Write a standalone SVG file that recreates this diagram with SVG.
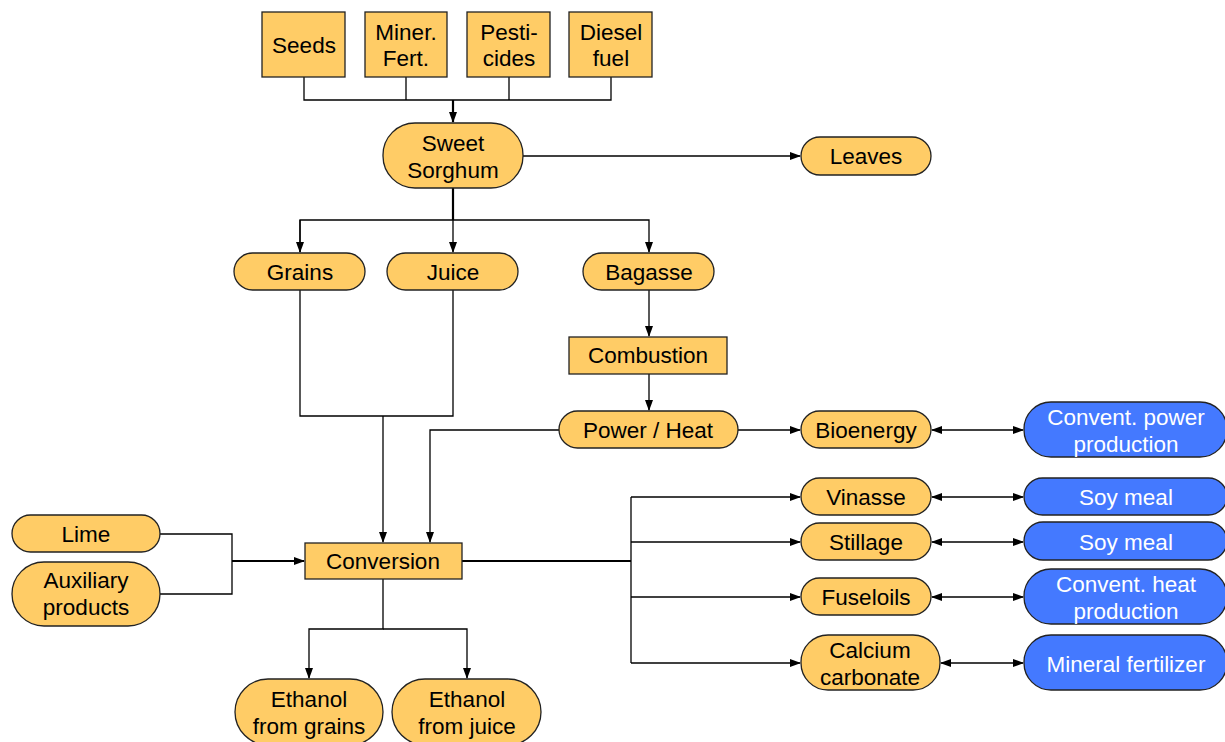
<svg xmlns="http://www.w3.org/2000/svg" width="1225" height="742" viewBox="0 0 1225 742">
<style>
.y{fill:#FFCC66;stroke:#222;stroke-width:1.3}
.b{fill:#4479FF;stroke:#222;stroke-width:1.3}
.t{font-family:"Liberation Sans",Arial,sans-serif;font-size:22.5px;text-anchor:middle;fill:#000}
.w{font-family:"Liberation Sans",Arial,sans-serif;font-size:22.5px;text-anchor:middle;fill:#fff}
.c{fill:none;stroke:#000;stroke-width:1.3}
.k{fill:none;stroke:#000;stroke-width:2.2}
</style>
<defs>
<marker id="a" markerWidth="11" markerHeight="11" refX="10" refY="5.5" orient="auto" markerUnits="userSpaceOnUse"><path d="M0,1.5 L11,5.5 L0,9.5 Z" fill="#000"/></marker>
<marker id="s" markerWidth="11" markerHeight="11" refX="1" refY="5.5" orient="auto" markerUnits="userSpaceOnUse"><path d="M11,1.5 L0,5.5 L11,9.5 Z" fill="#000"/></marker>
</defs>
<rect width="1225" height="742" fill="#fff"/>
<g id="connectors">
<path class="c" d="M304,77 V100 H611 V77 M406,77 V100 M509,77 V100"/>
<path class="k" d="M453,100 V122" marker-end="url(#a)"/>
<path class="c" d="M523,156 H800" marker-end="url(#a)"/>
<path class="k" d="M453,188 V220"/>
<path class="c" d="M300,252 V220 H649 V252" marker-end="url(#a)"/>
<path class="c" d="M300,220 V252" marker-end="url(#a)"/>
<path class="c" d="M453,220 V252" marker-end="url(#a)"/>
<path class="c" d="M649,290 V336" marker-end="url(#a)"/>
<path class="c" d="M649,374 V410" marker-end="url(#a)"/>
<path class="c" d="M300,290 V416 H453 V290"/>
<path class="c" d="M383,416 V542" marker-end="url(#a)"/>
<path class="c" d="M559,430 H430 V542" marker-end="url(#a)"/>
<path class="c" d="M738,430 H800" marker-end="url(#a)"/>
<path class="c" d="M932,430 H1023" marker-start="url(#s)" marker-end="url(#a)"/>
<path class="c" d="M160,534 H232 V594 H160"/>
<path class="k" d="M232,561 H304" marker-end="url(#a)"/>
<path class="k" d="M462,561 H631"/>
<path class="c" d="M631,497 V663"/>
<path class="c" d="M631,497 H800" marker-end="url(#a)"/>
<path class="c" d="M631,542 H800" marker-end="url(#a)"/>
<path class="c" d="M631,597 H800" marker-end="url(#a)"/>
<path class="c" d="M631,663 H800" marker-end="url(#a)"/>
<path class="c" d="M932,497 H1023" marker-start="url(#s)" marker-end="url(#a)"/>
<path class="c" d="M932,542 H1023" marker-start="url(#s)" marker-end="url(#a)"/>
<path class="c" d="M932,597 H1023" marker-start="url(#s)" marker-end="url(#a)"/>
<path class="c" d="M941,663 H1023" marker-start="url(#s)" marker-end="url(#a)"/>
<path class="c" d="M383,579 V629 H309 V678" marker-end="url(#a)"/>
<path class="c" d="M383,629 H467 V678" marker-end="url(#a)"/>
</g>
<g id="seeds"><rect class="y" x="262" y="12" width="83" height="65"/><text class="t" x="304" y="53">Seeds</text></g>
<g id="fert"><rect class="y" x="365" y="12" width="82" height="65"/><text class="t" x="406" y="40">Miner.</text><text class="t" x="406" y="66">Fert.</text></g>
<g id="pest"><rect class="y" x="467" y="12" width="83" height="65"/><text class="t" x="509" y="40">Pesti-</text><text class="t" x="509" y="66">cides</text></g>
<g id="diesel"><rect class="y" x="569" y="12" width="83" height="65"/><text class="t" x="611" y="40">Diesel</text><text class="t" x="611" y="66">fuel</text></g>
<g id="sorghum"><rect class="y" x="383" y="123" width="140" height="65" rx="32" ry="32"/><text class="t" x="453" y="151">Sweet</text><text class="t" x="453" y="178">Sorghum</text></g>
<g id="leaves"><rect class="y" x="801" y="137" width="130" height="38" rx="19" ry="19"/><text class="t" x="866" y="164">Leaves</text></g>
<g id="grains"><rect class="y" x="234" y="253" width="131" height="37" rx="18.5" ry="18.5"/><text class="t" x="300" y="280">Grains</text></g>
<g id="juice"><rect class="y" x="387" y="253" width="131" height="37" rx="18.5" ry="18.5"/><text class="t" x="453" y="280">Juice</text></g>
<g id="bagasse"><rect class="y" x="583" y="253" width="131" height="37" rx="18.5" ry="18.5"/><text class="t" x="649" y="280">Bagasse</text></g>
<g id="combustion"><rect class="y" x="569" y="337" width="158" height="37"/><text class="t" x="648" y="363">Combustion</text></g>
<g id="powerheat"><rect class="y" x="559" y="411" width="179" height="37" rx="18.5" ry="18.5"/><text class="t" x="648" y="438">Power / Heat</text></g>
<g id="bioenergy"><rect class="y" x="801" y="411" width="130" height="37" rx="18.5" ry="18.5"/><text class="t" x="866" y="438">Bioenergy</text></g>
<g id="convpower"><rect class="b" x="1024" y="402" width="203" height="55" rx="27" ry="27"/><text class="w" x="1126" y="425">Convent. power</text><text class="w" x="1126" y="452">production</text></g>
<g id="lime"><rect class="y" x="12" y="515" width="148" height="37" rx="18.5" ry="18.5"/><text class="t" x="86" y="542">Lime</text></g>
<g id="aux"><rect class="y" x="12" y="562" width="148" height="64" rx="32" ry="32"/><text class="t" x="86" y="588">Auxiliary</text><text class="t" x="86" y="615">products</text></g>
<g id="conversion"><rect class="y" x="305" y="543" width="157" height="36"/><text class="t" x="383" y="569">Conversion</text></g>
<g id="vinasse"><rect class="y" x="801" y="478" width="130" height="37" rx="18.5" ry="18.5"/><text class="t" x="866" y="505">Vinasse</text></g>
<g id="stillage"><rect class="y" x="801" y="523" width="130" height="37" rx="18.5" ry="18.5"/><text class="t" x="866" y="550">Stillage</text></g>
<g id="fuseloils"><rect class="y" x="801" y="578" width="130" height="37" rx="18.5" ry="18.5"/><text class="t" x="866" y="605">Fuseloils</text></g>
<g id="calcium"><rect class="y" x="801" y="635" width="139" height="55" rx="27" ry="27"/><text class="t" x="870" y="658">Calcium</text><text class="t" x="870" y="685">carbonate</text></g>
<g id="soy1"><rect class="b" x="1024" y="478" width="203" height="37" rx="18.5" ry="18.5"/><text class="w" x="1126" y="505">Soy meal</text></g>
<g id="soy2"><rect class="b" x="1024" y="522" width="203" height="38" rx="19" ry="19"/><text class="w" x="1126" y="550">Soy meal</text></g>
<g id="convheat"><rect class="b" x="1024" y="569" width="203" height="55" rx="27" ry="27"/><text class="w" x="1126" y="592">Convent. heat</text><text class="w" x="1126" y="619">production</text></g>
<g id="minfert"><rect class="b" x="1024" y="635" width="203" height="55" rx="27" ry="27"/><text class="w" x="1126" y="672">Mineral fertilizer</text></g>
<g id="ethgrains"><rect class="y" x="235" y="679" width="148" height="66" rx="33" ry="33"/><text class="t" x="309" y="707">Ethanol</text><text class="t" x="309" y="734">from grains</text></g>
<g id="ethjuice"><rect class="y" x="392" y="679" width="149" height="66" rx="33" ry="33"/><text class="t" x="467" y="707">Ethanol</text><text class="t" x="467" y="734">from juice</text></g>
</svg>
